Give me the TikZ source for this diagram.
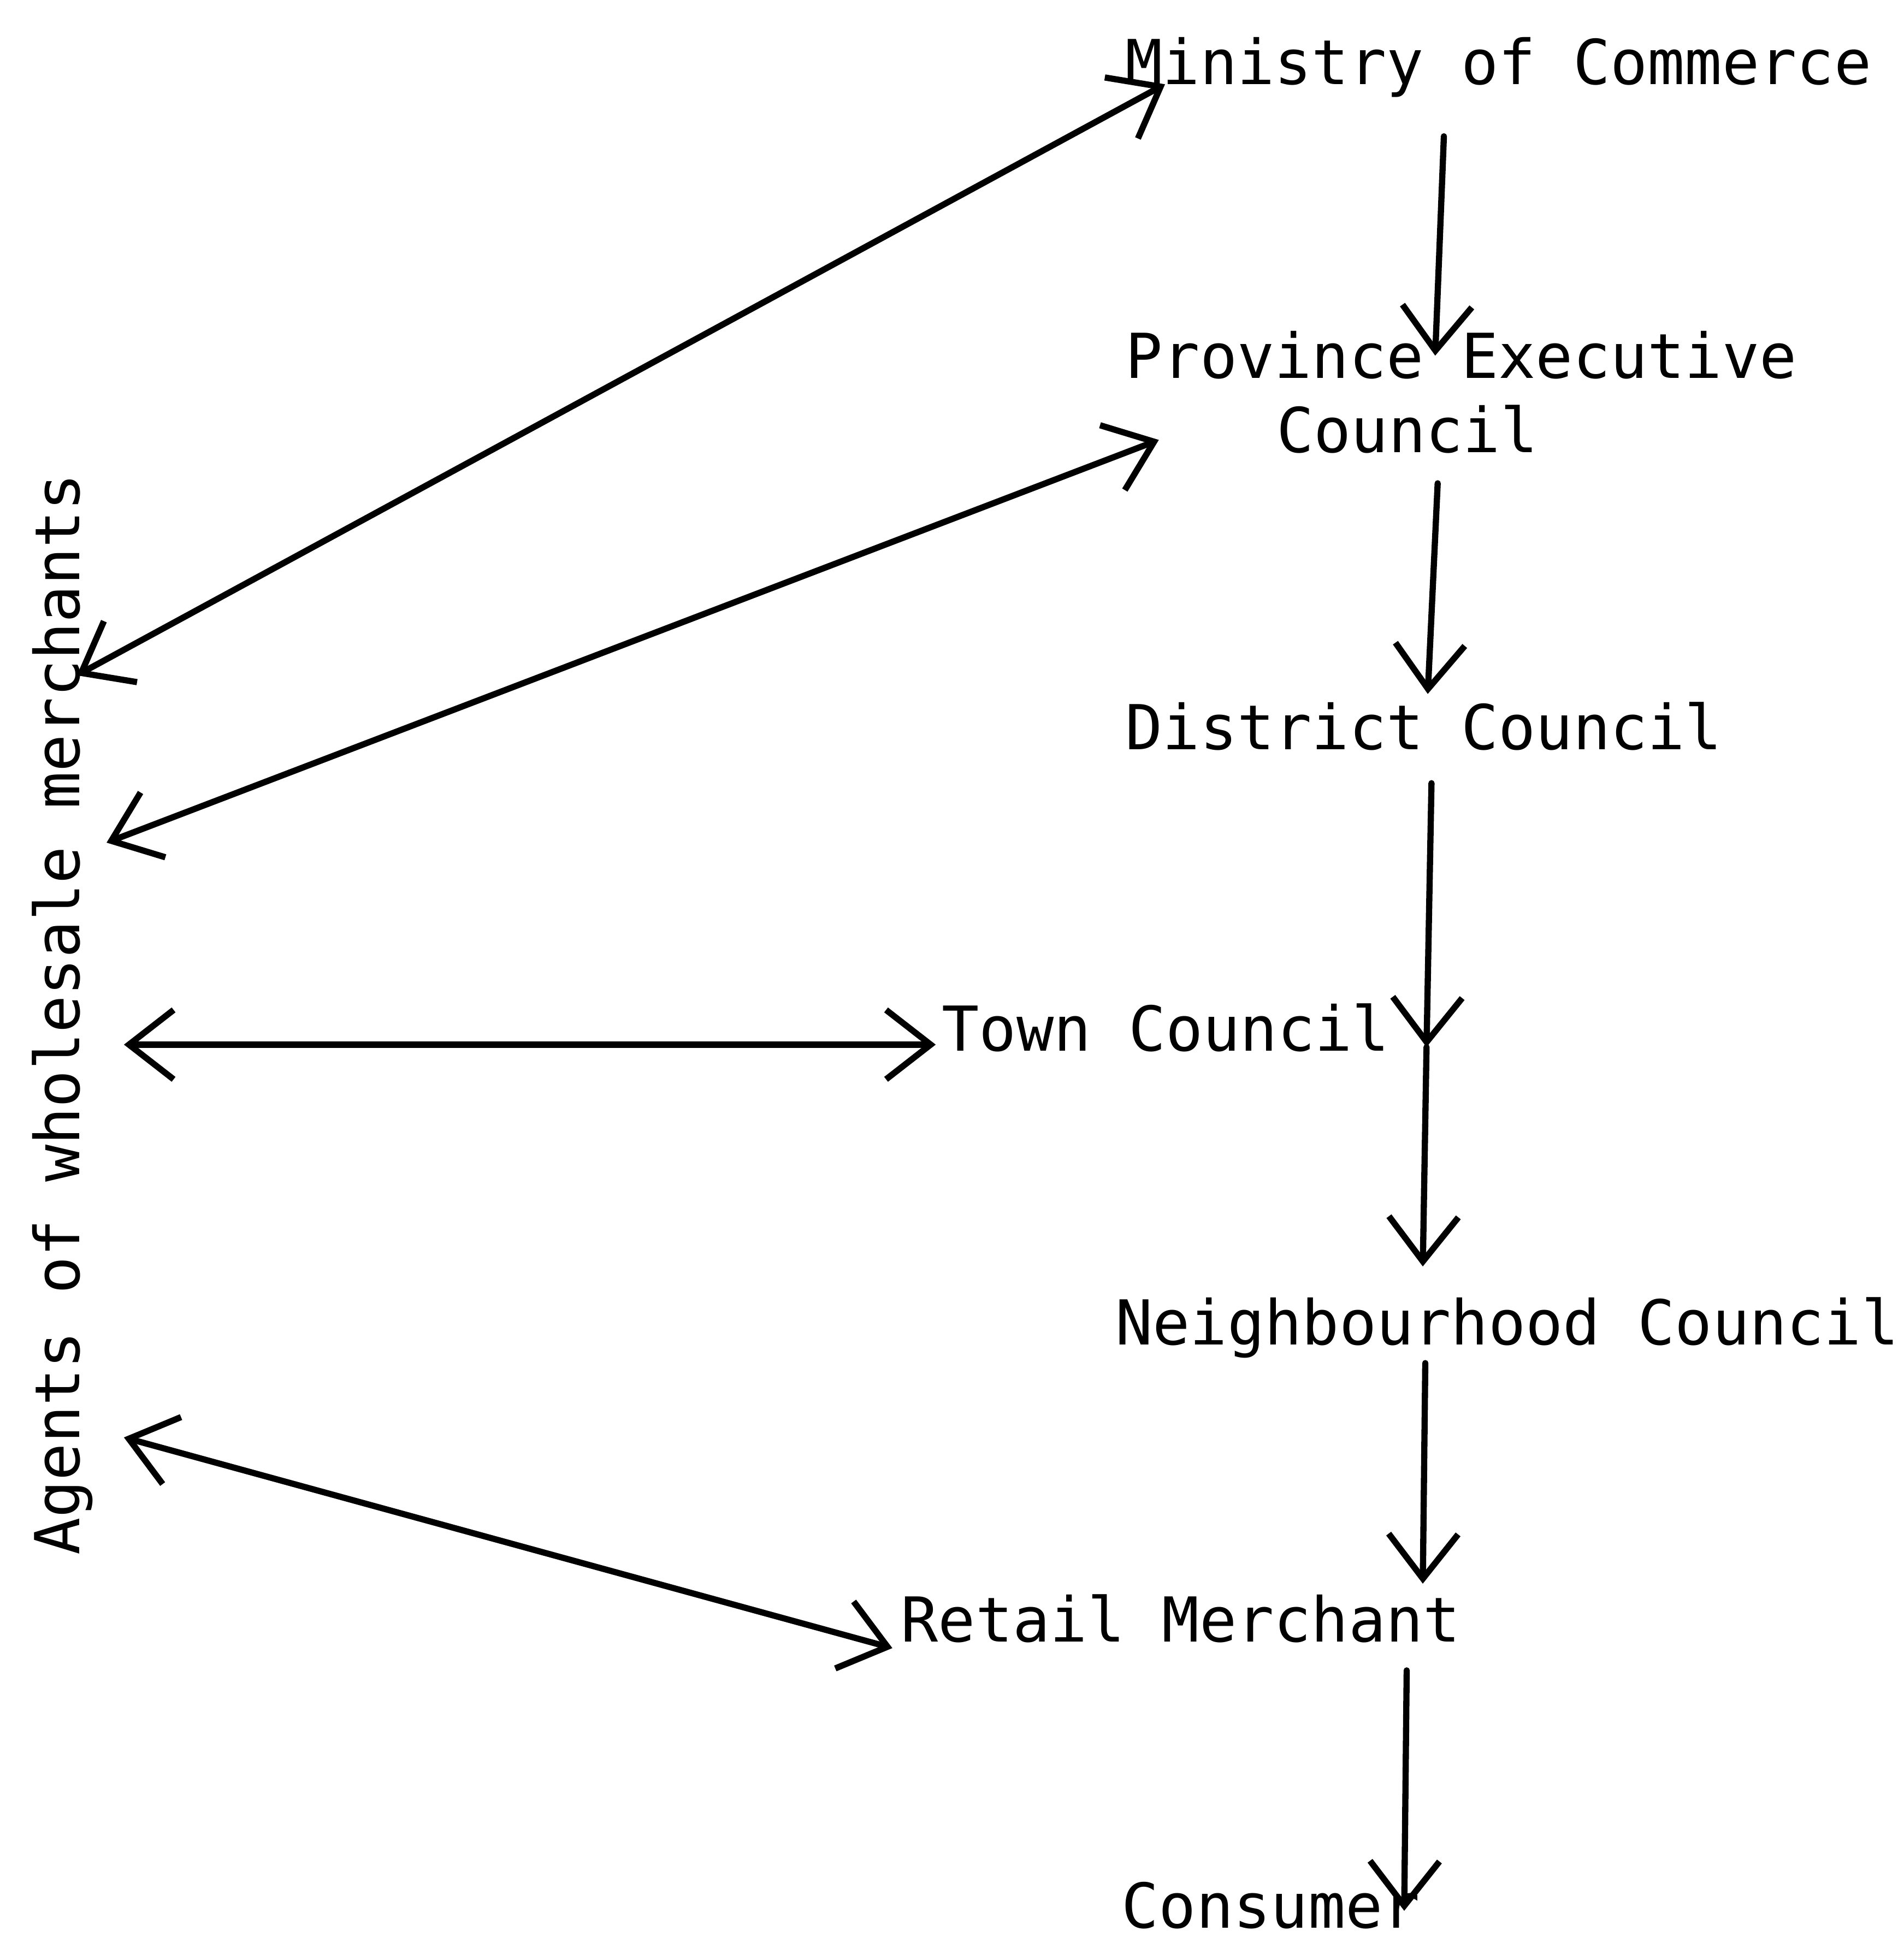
\documentclass[tikz,border=0pt]{standalone}
\usepackage{fontspec}
\newfontfamily\tw{DejaVu Sans Mono}
\usetikzlibrary{arrows.meta,calc}
\begin{document}
\begin{tikzpicture}[x=0.5pt,y=-0.5pt,
  >={Straight Barb[length=18pt,width=28pt]},
  lbl/.style={anchor=base west,inner sep=0pt,outer sep=0pt,font=\tw\fontsize{25pt}{30pt}\selectfont},
  flow/.style={->,line width=2.5pt,line cap=round},
  link/.style={<->,line width=2.5pt,line cap=round}]
\useasboundingbox[fill=white] (0,0) rectangle (1536,1568);

% labels
\node[lbl] (min) at (908,68) {Ministry of Commerce};
\node[lbl] (pec) at (908,305) {Province Executive};
\node[lbl] (pec2) at (1030,365) {Council};
\node[lbl] (dis) at (908,605) {District Council};
\node[lbl] (town) at (760,848) {Town Council};
\node[lbl] (nei) at (900,1085) {Neighbourhood Council};
\node[lbl] (ret) at (727,1325) {Retail Merchant};
\node[lbl] (con) at (905,1556) {Consumer};
\node[lbl,rotate=90] (ag) at (64,1255) {Agents of wholesale merchants};

% vertical chain
\draw[flow] ($(min.base west)+(257,42)$) -- ($(pec.base west)+(250,-18)$);
\draw[flow] ($(pec.base west)+(252,85)$) -- ($(dis.base west)+(244,-45)$);
\draw[flow] ($(dis.base west)+(247,27)$) -- ($(town.base west)+(391,-3)$);
\draw[flow] ($(town.base west)+(391,-3)$) -- ($(nei.base west)+(248,-63)$);
\draw[flow] ($(nei.base west)+(250,15)$) -- ($(ret.base west)+(421,-47)$);
\draw[flow] ($(ret.base west)+(408,23)$) -- ($(con.base west)+(228,-14)$);

% links with the agents
\draw[link] ($(ag.base west)+(-2,-710)$) -- ($(min.base west)+(32,0)$);
\draw[link] ($(ag.base west)+(22,-575)$) -- ($(pec.base west)+(27,50)$);
\draw[link] ($(ag.base west)+(36,-412)$) -- ($(town.base west)+(-5,-5)$);
\draw[link] ($(ag.base west)+(36,-95)$) -- ($(ret.base west)+(-7,5)$);
\end{tikzpicture}
\end{document}
